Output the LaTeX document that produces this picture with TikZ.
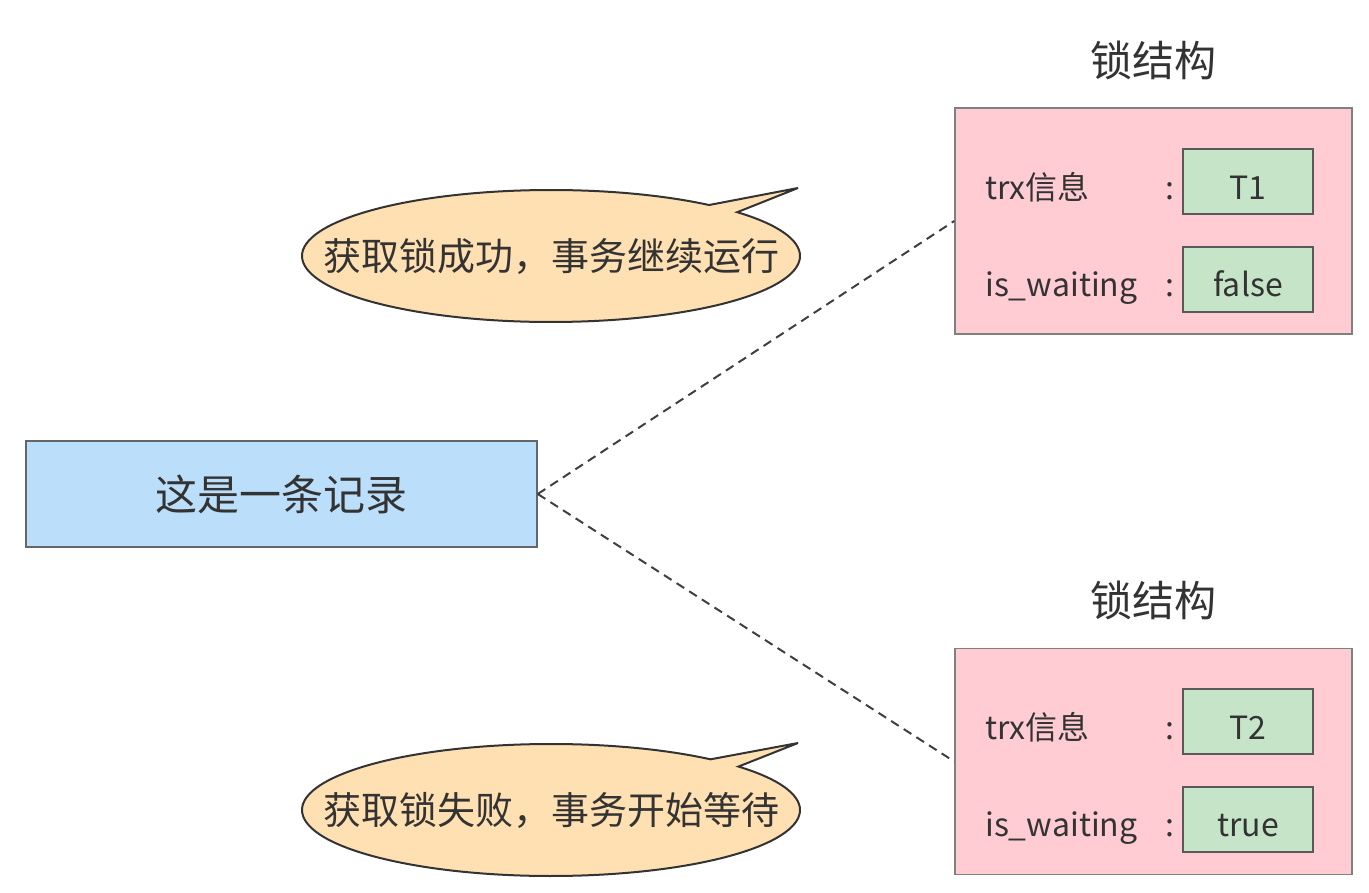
\documentclass[tikz,border=0pt]{standalone}
\usepackage{fontspec}
\setmainfont{Noto Sans CJK SC}
\usetikzlibrary{positioning, shapes.geometric, shapes.callouts}

\definecolor{recblue}{HTML}{BBDEFA}
\definecolor{lockpink}{HTML}{FFCCD3}
\definecolor{valgreen}{HTML}{C6E5C8}
\definecolor{bubbleorange}{HTML}{FFE0B2}
\definecolor{txtgray}{HTML}{333333}

\tikzset{
  recbox/.style={draw=gray!80!black, line width=1.5pt, fill=recblue, minimum width=511pt, minimum height=106pt, text=txtgray, font=\fontsize{42}{50}\selectfont},
  lockbox/.style={draw=gray, line width=1.5pt, fill=lockpink, minimum width=397pt, minimum height=226pt},
  valbox/.style={draw=black!65, line width=1.5pt, fill=valgreen, minimum width=130pt, minimum height=65pt},
  fieldtxt/.style={text=txtgray, inner sep=0pt, font=\fontsize{32}{38}\selectfont},
  locktitle/.style={text=txtgray, font=\fontsize{42}{50}\selectfont},
  bubble/.style={ellipse callout, draw=black!80, line width=2pt, fill=bubbleorange, minimum width=498pt, minimum height=132pt, inner sep=0pt, callout pointer arc=9},
  bubbletxt/.style={text=txtgray, font=\fontsize{38}{46}\selectfont},
  link/.style={dash pattern=on 9pt off 6pt, line width=2pt, draw=black!75}
}

\begin{document}
\begin{tikzpicture}[x=1pt, y=-1pt]
  \useasboundingbox (0,0) rectangle (1369,893);

  % the record
  \node (rec) [recbox] at (281.5,494) {这是一条记录};

  % lock structure of T1
  \node (title1) [locktitle] at (1153,60) {锁结构};
  \node (lock1) [lockbox] at (1153.5,221) {};
  \node (trx1) [valbox] at (1248,181.5) {};
  \node (wait1) [valbox] at (1248,279.5) {};
  \node (trxlab1) [fieldtxt, anchor=base west] at (985,200) {trx信息};
  \node (waitlab1) [fieldtxt, anchor=base west] at (985,297) {is\_waiting};
  \node (col1a) [fieldtxt, anchor=base] at (1170,200) {:};
  \node (col1b) [fieldtxt, anchor=base] at (1170,297) {:};
  \node (trxval1) [fieldtxt, anchor=base] at (1248,200) {T1};
  \node (waitval1) [fieldtxt, anchor=base] at (1248,297) {false};

  % lock structure of T2
  \node (title2) [locktitle] at (1153,600) {锁结构};
  \node (lock2) [lockbox] at (1153.5,761.5) {};
  \node (trx2) [valbox] at (1248,721.5) {};
  \node (wait2) [valbox] at (1248,819.5) {};
  \node (trxlab2) [fieldtxt, anchor=base west] at (985,739) {trx信息};
  \node (waitlab2) [fieldtxt, anchor=base west] at (985,836) {is\_waiting};
  \node (col2a) [fieldtxt, anchor=base] at (1170,739) {:};
  \node (col2b) [fieldtxt, anchor=base] at (1170,836) {:};
  \node (trxval2) [fieldtxt, anchor=base] at (1248,739) {T2};
  \node (waitval2) [fieldtxt, anchor=base] at (1248,836) {true};

  % links
  \draw [link] (rec.east) -- (lock1.west);
  \draw [link] (rec.east) -- (lock2.west);

  % speech bubbles
  \node (okbub) [bubble, callout absolute pointer={(798,188)}] at (551,256) {};
  \node (oktxt) [bubbletxt] at (okbub.center) {获取锁成功，事务继续运行};
  \node (failbub) [bubble, callout absolute pointer={(798,743)}] at (551,810) {};
  \node (failtxt) [bubbletxt] at (failbub.center) {获取锁失败，事务开始等待};
\end{tikzpicture}
\end{document}
